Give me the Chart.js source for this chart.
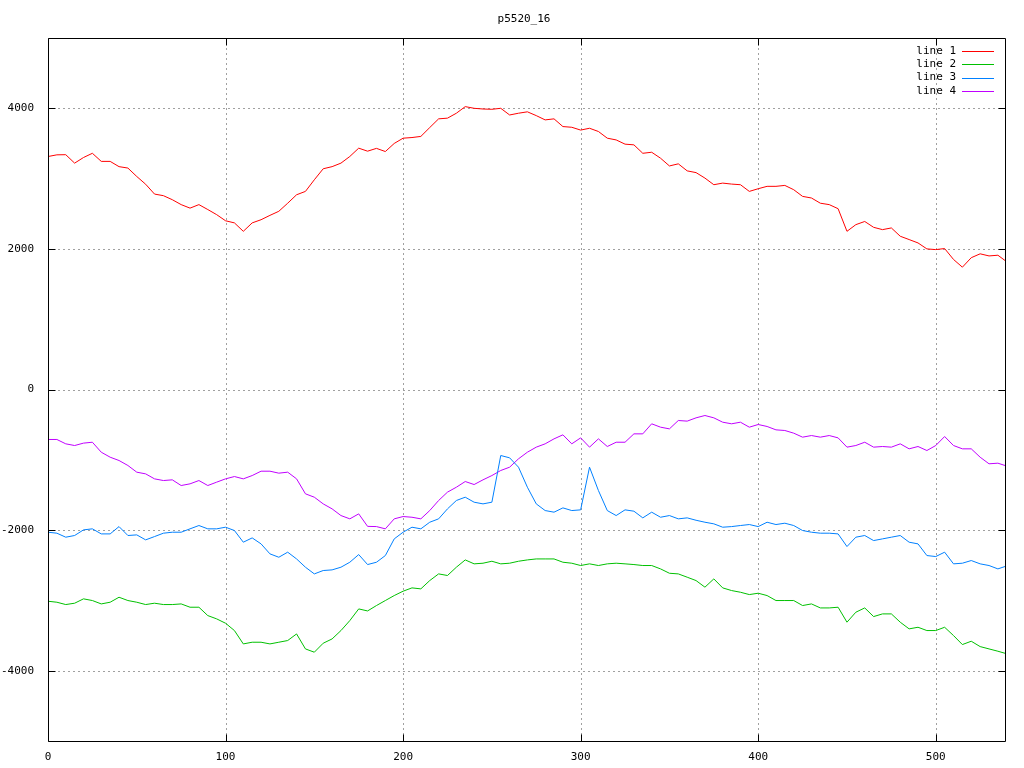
<!DOCTYPE html>
<html>
<head>
<meta charset="utf-8">
<script src="https://cdn.jsdelivr.net/npm/chart.js@4.4.1/dist/chart.umd.min.js"></script>
<style>
html,body{margin:0;padding:0;background:#fff;}
canvas{display:block;}
</style>
</head>
<body>
<canvas id="c" width="1024" height="768"></canvas>
<script>
const chartTitle = "p5520_16";
const seriesNames = ["line 1", "line 2", "line 3", "line 4"];
const seriesColors = ["#ff0000", "#00c000", "#0080ff", "#c000ff"];
const xTicks = [0, 100, 200, 300, 400, 500];
const yTicks = [-4000, -2000, 0, 2000, 4000];

const xs = [0,5,10,15,20,25,30,35,40,45,50,55,60,65,70,75,80,85,90,95,
  100,105,110,115,120,125,130,135,140,145,150,155,160,165,170,175,180,185,190,195,
  200,205,210,215,220,225,230,235,240,245,250,255,260,265,270,275,280,285,290,295,
  300,305,310,315,320,325,330,335,340,345,350,355,360,365,370,375,380,385,390,395,
  400,405,410,415,420,425,430,435,440,445,450,455,460,465,470,475,480,485,490,495,
  500,505,510,515,520,525,530,535,539];

const line1 = [3314,3338,3340,3220,3300,3360,3245,3245,3170,3150,3030,2920,2780,2757,2700,2630,2580,2630,2560,2487,
  2400,2370,2250,2370,2415,2477,2535,2650,2770,2818,2983,3140,3170,3220,3315,3433,3390,3430,3385,3500,
  3575,3584,3600,3726,3850,3860,3930,4024,4000,3990,3986,4000,3905,3930,3950,3896,3835,3850,3740,3730,
  3690,3716,3670,3575,3550,3490,3480,3360,3375,3290,3180,3210,3110,3085,3007,2913,2936,2922,2913,2818,
  2856,2890,2890,2903,2842,2747,2724,2650,2630,2572,2250,2345,2390,2307,2274,2298,2180,2133,2085,2000,
  1990,2005,1850,1740,1875,1930,1900,1910,1835];

const line2 = [-3012,-3026,-3059,-3040,-2978,-3002,-3050,-3026,-2955,-3002,-3026,-3059,-3040,-3059,-3059,-3050,-3097,-3097,-3216,-3263,
  -3325,-3429,-3619,-3595,-3595,-3619,-3595,-3571,-3477,-3690,-3737,-3609,-3548,-3429,-3287,-3121,-3150,-3073,-3002,-2931,
  -2869,-2822,-2836,-2718,-2623,-2646,-2528,-2424,-2480,-2471,-2443,-2480,-2471,-2443,-2424,-2410,-2410,-2410,-2457,-2471,
  -2504,-2480,-2504,-2480,-2471,-2480,-2490,-2504,-2504,-2552,-2614,-2623,-2670,-2718,-2812,-2694,-2822,-2860,-2884,-2917,
  -2898,-2931,-3002,-3002,-3002,-3073,-3050,-3107,-3107,-3097,-3310,-3168,-3107,-3230,-3192,-3192,-3310,-3405,-3382,-3429,
  -3429,-3382,-3500,-3628,-3581,-3657,-3690,-3723,-3752];

const line3 = [-2030,-2044,-2101,-2077,-1997,-1982,-2054,-2054,-1950,-2077,-2068,-2139,-2092,-2044,-2030,-2030,-1982,-1935,-1982,-1982,
  -1959,-2006,-2172,-2111,-2196,-2338,-2386,-2314,-2410,-2528,-2623,-2575,-2566,-2528,-2457,-2348,-2490,-2457,-2362,-2125,
  -2030,-1959,-1982,-1888,-1840,-1698,-1579,-1532,-1603,-1627,-1603,-939,-972,-1105,-1390,-1627,-1722,-1745,-1684,-1722,
  -1712,-1105,-1437,-1722,-1793,-1712,-1731,-1826,-1745,-1817,-1793,-1840,-1826,-1860,-1888,-1911,-1959,-1950,-1935,-1921,
  -1950,-1888,-1921,-1902,-1935,-2006,-2030,-2044,-2044,-2054,-2234,-2101,-2077,-2149,-2125,-2101,-2077,-2172,-2196,-2362,
  -2376,-2314,-2480,-2471,-2433,-2480,-2504,-2552,-2518];

const line4 = [-711,-711,-773,-797,-763,-750,-892,-963,-1010,-1081,-1176,-1200,-1271,-1295,-1285,-1366,-1342,-1295,-1366,-1318,
  -1271,-1238,-1271,-1224,-1162,-1162,-1190,-1176,-1271,-1484,-1532,-1627,-1698,-1793,-1840,-1769,-1947,-1950,-1982,-1840,
  -1807,-1817,-1840,-1722,-1579,-1460,-1390,-1309,-1352,-1285,-1224,-1152,-1105,-986,-892,-820,-773,-702,-645,-773,
  -688,-820,-702,-811,-750,-750,-631,-631,-488,-536,-560,-441,-450,-403,-370,-403,-465,-488,-465,-536,
  -498,-526,-574,-583,-621,-678,-655,-678,-655,-688,-820,-797,-750,-820,-811,-820,-773,-844,-811,-868,
  -797,-669,-797,-844,-844,-963,-1057,-1048,-1081];

const allSeries = [line1, line2, line3, line4];
const FONT = "'DejaVu Sans Mono', monospace";

const gnuplotPlugin = {
  id: 'gnuplotDeco',
  beforeDatasetsDraw(chart) {
    const {ctx, chartArea: a, scales} = chart;
    ctx.save();
    ctx.strokeStyle = '#a0a0a0';
    ctx.lineWidth = 1;
    ctx.setLineDash([2, 3]);
    yTicks.forEach(v => {
      const y = Math.round(scales.y.getPixelForValue(v)) + 0.5;
      ctx.beginPath(); ctx.moveTo(a.left, y); ctx.lineTo(a.right, y); ctx.stroke();
    });
    xTicks.forEach(v => {
      if (v === scales.x.min) return;
      const x = Math.round(scales.x.getPixelForValue(v)) + 0.5;
      ctx.beginPath(); ctx.moveTo(x, a.top); ctx.lineTo(x, a.bottom); ctx.stroke();
    });
    ctx.restore();
  },
  afterDatasetsDraw(chart) {
    const {ctx, chartArea: a, scales} = chart;
    ctx.save();
    ctx.strokeStyle = '#000';
    ctx.lineWidth = 1;
    ctx.setLineDash([]);
    const L = Math.round(a.left) + 0.5, R = Math.round(a.right) + 0.5;
    const T = Math.round(a.top) + 0.5, B = Math.round(a.bottom) + 0.5;
    yTicks.forEach(v => {
      const y = Math.round(scales.y.getPixelForValue(v)) + 0.5;
      ctx.beginPath(); ctx.moveTo(L, y); ctx.lineTo(L + 7, y); ctx.stroke();
      ctx.beginPath(); ctx.moveTo(R, y); ctx.lineTo(R - 7, y); ctx.stroke();
    });
    xTicks.forEach(v => {
      const x = Math.round(scales.x.getPixelForValue(v)) + 0.5;
      ctx.beginPath(); ctx.moveTo(x, B); ctx.lineTo(x, B - 7); ctx.stroke();
      ctx.beginPath(); ctx.moveTo(x, T); ctx.lineTo(x, T + 7); ctx.stroke();
    });
    ctx.beginPath();
    ctx.rect(L, T, R - L, B - T);
    ctx.stroke();
    ctx.restore();
  },
  afterDraw(chart) {
    const {ctx} = chart;
    ctx.save();
    ctx.font = "11px " + FONT;
    ctx.fillStyle = '#000';
    ctx.textBaseline = 'middle';
    ctx.textAlign = 'center';
    ctx.fillText(chartTitle, 524, 19);
    ctx.textAlign = 'right';
    chart.data.datasets.forEach((ds, i) => {
      const y = 51 + i * 13.3;
      ctx.fillStyle = '#000';
      ctx.fillText(ds.label, 956, y);
      ctx.strokeStyle = ds.borderColor;
      ctx.lineWidth = 1;
      const yy = Math.round(y) + 0.5;
      ctx.beginPath(); ctx.moveTo(962, yy); ctx.lineTo(994, yy); ctx.stroke();
    });
    ctx.restore();
  }
};

new Chart(document.getElementById('c'), {
  type: 'line',
  data: {
    datasets: allSeries.map((s, k) => ({
      label: seriesNames[k],
      data: s.map((v, i) => ({x: xs[i], y: v})),
      borderColor: seriesColors[k],
      backgroundColor: seriesColors[k],
      borderWidth: 1,
      pointRadius: 0,
      tension: 0,
      fill: false
    }))
  },
  options: {
    responsive: false,
    devicePixelRatio: 1,
    animation: false,
    layout: {padding: {top: 38, right: 19, left: 0, bottom: 0}},
    plugins: {legend: {display: false}, title: {display: false}, tooltip: {enabled: false}},
    scales: {
      x: {
        type: 'linear', min: 0, max: 539,
        grid: {display: false},
        border: {display: false},
        ticks: {font: {family: FONT, size: 11}, color: '#000', padding: 2, maxRotation: 0,
                callback: v => String(v)},
        afterBuildTicks: s => { s.ticks = xTicks.map(v => ({value: v})); },
        afterFit: s => { s.height = 27; }
      },
      y: {
        type: 'linear', min: -5000, max: 5000,
        grid: {display: false},
        border: {display: false},
        ticks: {font: {family: FONT, size: 11}, color: '#000', padding: 6,
                callback: v => String(v)},
        afterBuildTicks: s => { s.ticks = yTicks.map(v => ({value: v})); },
        afterFit: s => { s.width = 48; }
      }
    }
  },
  plugins: [gnuplotPlugin]
});
</script>
</body>
</html>
